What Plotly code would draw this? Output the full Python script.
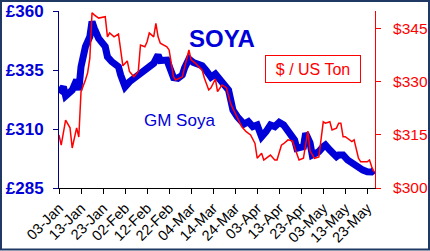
import pandas as pd
import plotly.graph_objects as go

base_date = "2001-01-03"

gm_days = [0,2,3,6,8,9,10,11,12,14,15,16,18,21,22,24,27,28,30,32,35,38,40,43,45,46,49,50,51,52,
           54,56,57,59,61,63,65,67,69,71,73,75,77,78,79,81,84,86,88,90,92,94,96,98,100,102,105,107,108,111,
           112,114,115,118,120,121,123,124,126,127,129,131,134,136,138,140,142,143]
gm_vals = [325.3,327.9,324.0,326.5,330.8,326.5,336.4,342.1,344.9,349.1,355.5,352.7,348.4,344.9,340.6,338.5,336.4,332.9,327.9,330.0,
           332.2,335.0,336.1,337.8,341.4,339.0,339.2,337.1,335.0,331.8,331.5,332.9,335.8,339.7,338.2,337.1,336.8,334.6,332.0,333.3,
           331.2,328.6,326.5,322.3,318.0,315.2,312.1,313.1,311.0,311.7,306.7,308.9,311.7,311.0,312.8,311.7,308.2,305.3,301.8,302.5,
           308.2,304.1,299.0,300.4,302.5,303.2,301.1,300.3,298.3,299.0,299.0,296.9,294.7,293.3,292.6,291.9,291.8,292.5]

usd_days = [0,1,3,5,6,8,9,10,12,13,14,15,16,18,21,22,23,25,27,29,31,32,34,36,37,39,40,41,43,44,
            45,46,49,50,52,53,56,59,60,62,65,66,68,69,71,72,74,76,78,81,83,85,87,89,90,92,93,96,98,99,
            101,102,104,106,108,109,111,113,114,116,118,119,120,121,123,124,126,127,128,129,130,133,134,136,137,140,141,142,143]
usd_vals = [315.0,312.1,319.2,317.0,311.3,317.0,314.4,327.2,330.5,332.5,336.7,349.5,348.9,348.0,348.4,342.7,343.8,342.7,343.5,334.5,
            335.9,332.9,331.4,332.9,340.4,339.9,341.3,343.8,342.7,346.5,342.7,340.9,339.9,339.0,331.4,330.5,331.4,339.0,336.2,335.2,
            333.3,331.1,327.7,328.3,330.8,327.2,329.1,328.3,323.7,320.1,317.3,315.9,315.0,312.6,308.4,309.8,307.9,309.3,307.9,307.9,
            312.1,312.5,313.6,313.3,309.3,307.9,308.4,316.1,310.5,308.4,308.8,314.5,318.7,318.3,318.7,316.4,316.9,318.3,318.3,314.5,
            314.5,313.1,313.6,308.4,307.4,307.4,307.9,306.0,304.6]

gbp_ticks = [285, 310, 335, 360]
gbp_labels = ["£285", "£310", "£335", "£360"]
usd_ticks = [300, 315, 330, 345]
usd_labels = ["$300", "$315", "$330", "$345"]

b = pd.Timestamp(base_date)
gm_x = [b + pd.Timedelta(days=d) for d in gm_days]
usd_x = [b + pd.Timedelta(days=d) for d in usd_days]
tick_x = [b + pd.Timedelta(days=10 * i) for i in range(15)]
tick_txt = [t.strftime("%d-%b") for t in tick_x]

BLUE = "#0000D8"
RED = "#FF0000"
FONT = "Arial, Liberation Sans, sans-serif"

fig = go.Figure()
fig.add_trace(go.Scatter(x=gm_x, y=gm_vals, mode="lines", line=dict(color=BLUE, width=7),
                         yaxis="y", showlegend=False))
fig.add_trace(go.Scatter(x=usd_x, y=usd_vals, mode="lines", line=dict(color=RED, width=1.5),
                         yaxis="y2", showlegend=False))

L, R, T, B = 59, 55, 11, 63
W, H = 430, 251
pw, ph = W - L - R, H - T - B

def px(xp):
    return (xp - L) / pw

def py(yp):
    return (H - B - yp) / ph

fig.update_layout(
    width=W, height=H,
    margin=dict(l=L, r=R, t=T, b=B, autoexpand=False),
    paper_bgcolor="white", plot_bgcolor="white",
    font=dict(family=FONT),
    xaxis=dict(
        range=[b, b + pd.Timedelta(days=143.5)],
        tickvals=tick_x, ticktext=tick_txt, tickangle=-45,
        tickfont=dict(size=14.5, color="black", family=FONT),
        showgrid=False, zeroline=False, automargin=False,
        showline=True, linecolor="black", linewidth=1,
        ticks="outside", ticklen=5, tickcolor="black",
    ),
    yaxis=dict(
        range=[285, 360], tickvals=gbp_ticks, ticktext=gbp_labels,
        tickfont=dict(size=17, color=BLUE, family=FONT, weight="bold"),
        showgrid=False, zeroline=False, automargin=False,
        showline=True, linecolor="#000080", linewidth=1,
        ticks="outside", ticklen=5, tickcolor="#000080",
        ticklabelstandoff=6,
    ),
    yaxis2=dict(
        range=[300, 350], tickvals=usd_ticks, ticktext=usd_labels,
        overlaying="y", side="right", automargin=False,
        tickfont=dict(size=15.5, color=RED, family=FONT),
        showgrid=False, zeroline=False,
        showline=True, linecolor=RED, linewidth=1,
        ticks="outside", ticklen=5, tickcolor=RED,
        ticklabelstandoff=9,
    ),
    annotations=[
        dict(text="<b>SOYA</b>", x=px(222), y=py(23), xref="paper", yref="paper",
             showarrow=False, font=dict(size=24, color=BLUE, family=FONT)),
        dict(text="GM Soya", x=px(179), y=py(132), xref="paper", yref="paper",
             showarrow=False, font=dict(size=17, color=BLUE, family=FONT)),
        dict(text="$ / US Ton", x=px(360.5), y=py(55), xref="paper", yref="paper",
             showarrow=False, font=dict(size=16, color=RED, family=FONT),
             bordercolor=RED, borderwidth=1, bgcolor="white", borderpad=4,
             width=86, height=18),
    ],
    shapes=[
        dict(type="rect", xref="paper", yref="paper",
             x0=px(1), x1=px(429), y0=py(249.5), y1=py(1),
             line=dict(color="#1F3864", width=2), fillcolor="rgba(0,0,0,0)"),
    ],
)

fig.write_html("out.html")
